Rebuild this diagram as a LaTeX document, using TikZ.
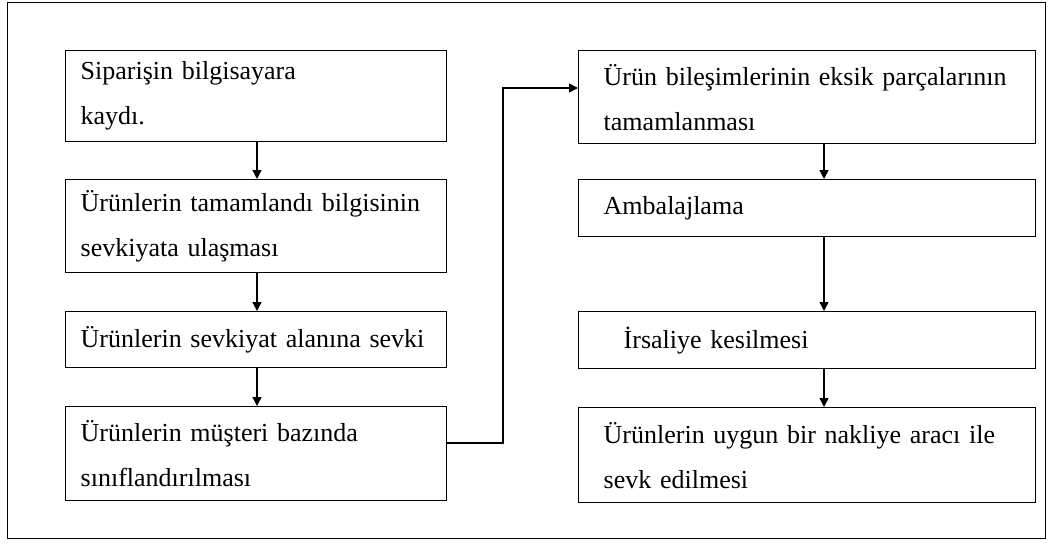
\documentclass[tikz,border=0pt]{standalone}
\usepackage{fontspec}
\setmainfont{Liberation Serif}
\usetikzlibrary{arrows.meta}
\begin{document}
\begin{tikzpicture}[x=1pt,y=-1pt,
  box/.style={draw, line width=1.4pt, anchor=north west, align=left,
    font=\fontsize{26}{45}\selectfont, inner ysep=0pt},
  lbox/.style={box, inner xsep=15pt, text width=351pt, minimum width=381pt},
  rbox/.style={box, inner xsep=25pt, text width=407pt, minimum width=457pt},
  arr/.style={line width=1.4pt, -{Triangle[length=9pt,width=9pt]}},
  conn/.style={line width=1.4pt}]
\useasboundingbox (0,0) rectangle (1048,543);
\draw[line width=0.9pt] (7,2) rectangle (1045,538);
% left column
\node[lbox, minimum height=91pt] (l1) at (65,50) {Siparişin bilgisayara\\kaydı.};
\node[lbox, minimum height=93pt] (l2) at (65,179) {Ürünlerin tamamlandı bilgisinin\\sevkiyata ulaşması};
\node[lbox, minimum height=56pt] (l3) at (65,311) {Ürünlerin sevkiyat alanına sevki};
\node[lbox, minimum height=94pt] (l4) at (65,406) {Ürünlerin müşteri bazında\\sınıflandırılması};
% right column
\node[rbox, minimum height=93pt] (r1) at (578,50) {Ürün bileşimlerinin eksik parçalarının\\tamamlanması};
\node[rbox, minimum height=57pt] (r2) at (578,179) {Ambalajlama};
\node[rbox, minimum height=57pt] (r3) at (578,311) {\hspace{20pt}İrsaliye kesilmesi};
\node[rbox, minimum height=95pt] (r4) at (578,407) {Ürünlerin uygun bir nakliye aracı ile\\sevk edilmesi};
% guide coordinates
\coordinate (xl) at (257,0);
\coordinate (xr) at (824,0);
\coordinate (c1) at (0,443);
\coordinate (c2) at (503,88);
% arrows
\draw[arr] (l1.south -| xl) -- (l2.north -| xl);
\draw[arr] (l2.south -| xl) -- (l3.north -| xl);
\draw[arr] (l3.south -| xl) -- (l4.north -| xl);
\draw[arr] (r1.south -| xr) -- (r2.north -| xr);
\draw[arr] (r2.south -| xr) -- (r3.north -| xr);
\draw[arr] (r3.south -| xr) -- (r4.north -| xr);
\draw[arr] (l4.east |- c1) -| (c2) -- (r1.west |- c2);
\end{tikzpicture}
\end{document}
